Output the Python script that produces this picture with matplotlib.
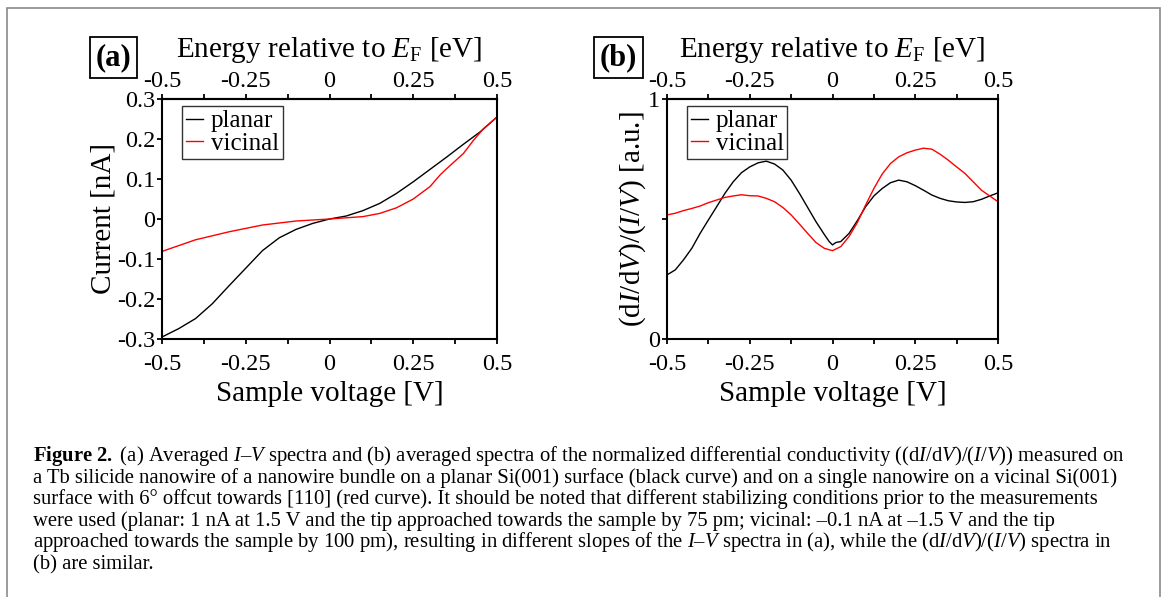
import numpy as np
import matplotlib
matplotlib.use("Agg")
import matplotlib.pyplot as plt
from matplotlib.patches import Rectangle

# -------------------------
# DATA
# -------------------------
# (a) I-V spectra
v_planar_iv = [-0.5, -0.45, -0.4, -0.35, -0.3, -0.25, -0.2, -0.15, -0.1, -0.05,
               0.0, 0.05, 0.1, 0.15, 0.2, 0.25, 0.3, 0.35, 0.4, 0.45, 0.5]
i_planar = [-0.295, -0.274, -0.249, -0.212, -0.167, -0.123, -0.079, -0.047, -0.026, -0.011,
            0.0, 0.0075, 0.021, 0.039, 0.064, 0.093, 0.124, 0.155, 0.187, 0.218, 0.255]

v_vicinal_iv = [-0.5, -0.4, -0.3, -0.2, -0.1, 0.0, 0.1, 0.15, 0.2, 0.25,
                0.3, 0.33, 0.35, 0.4, 0.43, 0.46, 0.5]
i_vicinal = [-0.081, -0.052, -0.032, -0.015, -0.005, 0.0, 0.006, 0.014, 0.028, 0.05,
             0.081, 0.11, 0.126, 0.164, 0.197, 0.226, 0.255]

# (b) normalized differential conductivity
v_planar_nd = [-0.5, -0.475, -0.45, -0.425, -0.4, -0.375, -0.35, -0.325, -0.3, -0.275,
               -0.25, -0.225, -0.2, -0.175, -0.15, -0.125, -0.1, -0.075, -0.05, -0.025,
               -0.01, 0.0, 0.01, 0.025, 0.05, 0.075, 0.1, 0.125, 0.15, 0.175,
               0.2, 0.225, 0.25, 0.275, 0.3, 0.325, 0.35, 0.375, 0.4, 0.425,
               0.45, 0.475, 0.5]
nd_planar = [0.267, 0.288, 0.330, 0.378, 0.440, 0.496, 0.551, 0.607, 0.655, 0.693,
             0.717, 0.734, 0.741, 0.729, 0.704, 0.662, 0.607, 0.548, 0.489, 0.436,
             0.406, 0.392, 0.402, 0.406, 0.440, 0.493, 0.551, 0.596, 0.627, 0.651,
             0.662, 0.655, 0.639, 0.620, 0.600, 0.586, 0.576, 0.571, 0.569, 0.572,
             0.582, 0.596, 0.609]

v_vicinal_nd = [-0.5, -0.475, -0.45, -0.425, -0.4, -0.375, -0.35, -0.325, -0.3, -0.275,
                -0.25, -0.225, -0.2, -0.175, -0.15, -0.125, -0.1, -0.075, -0.05, -0.025,
                0.0, 0.025, 0.05, 0.075, 0.1, 0.125, 0.15, 0.175, 0.2, 0.225,
                0.25, 0.275, 0.3, 0.325, 0.35, 0.375, 0.4, 0.425, 0.45, 0.475, 0.5]
nd_vicinal = [0.517, 0.524, 0.535, 0.544, 0.554, 0.568, 0.579, 0.590, 0.596, 0.601,
              0.597, 0.596, 0.586, 0.572, 0.548, 0.517, 0.479, 0.440, 0.402, 0.378,
              0.368, 0.385, 0.427, 0.485, 0.558, 0.627, 0.687, 0.731, 0.759, 0.776,
              0.787, 0.795, 0.791, 0.770, 0.745, 0.717, 0.690, 0.655, 0.620, 0.596, 0.572]

x_major = [-0.5, -0.25, 0.0, 0.25, 0.5]
x_major_labels = ["-0.5", "-0.25", "0", "0.25", "0.5"]
x_minor = [-0.375, -0.125, 0.125, 0.375]

ya_ticks = [-0.3, -0.2, -0.1, 0.0, 0.1, 0.2, 0.3]
ya_labels = ["-0.3", "-0.2", "-0.1", "0", "0.1", "0.2", "0.3"]
yb_ticks = [0.0, 0.5, 1.0]
yb_labels = ["0", "", "1"]

caption_lines = [
    r"$\mathbf{Figure\ 2.}$ (a) Averaged $I$–$V$ spectra and (b) averaged spectra of the normalized differential conductivity ((d$I$/d$V$)/($I$/$V$)) measured on",
    "a Tb silicide nanowire of a nanowire bundle on a planar Si(001) surface (black curve) and on a single nanowire on a vicinal Si(001)",
    "surface with 6° offcut towards [110] (red curve). It should be noted that different stabilizing conditions prior to the measurements",
    "were used (planar: 1 nA at 1.5 V and the tip approached towards the sample by 75 pm; vicinal: –0.1 nA at –1.5 V and the tip",
    r"approached towards the sample by 100 pm), resulting in different slopes of the $I$–$V$ spectra in (a), while the (d$I$/d$V$)/($I$/$V$) spectra in",
    "(b) are similar.",
]

# -------------------------
# STYLE
# -------------------------
plt.rcParams["font.family"] = ["Liberation Serif", "DejaVu Serif"]
plt.rcParams["mathtext.fontset"] = "custom"
plt.rcParams["mathtext.rm"] = "Liberation Serif"
plt.rcParams["mathtext.it"] = "Liberation Serif:italic"
plt.rcParams["mathtext.bf"] = "Liberation Serif:bold"
plt.rcParams["axes.unicode_minus"] = False

W, H = 1165, 597
fig = plt.figure(figsize=(W / 100, H / 100), dpi=100)


def px_axes(x0, y0, x1, y1):
    return fig.add_axes([x0 / W, 1 - y1 / H, (x1 - x0) / W, (y1 - y0) / H])


def style_axes(ax, ylabel, yticks, ylabels, ylim):
    ax.set_xlim(-0.5, 0.5)
    ax.set_ylim(*ylim)
    ax.set_xticks(x_major)
    ax.set_xticklabels(x_major_labels)
    ax.set_xticks(x_minor, minor=True)
    ax.set_yticks(yticks)
    ax.set_yticklabels(ylabels)
    for s in ax.spines.values():
        s.set_linewidth(1.5)
    ax.tick_params(which="both", direction="out", length=3.8, width=1.3,
                   labelsize=17.5)
    ax.tick_params(axis="x", pad=7)
    ax.tick_params(axis="y", pad=1)
    ax.set_xlabel("Sample voltage [V]", fontsize=21, labelpad=4)
    ax.set_ylabel(ylabel, fontsize=21, labelpad=0)

    top = ax.secondary_xaxis("top", functions=(lambda x: x, lambda x: x))
    top.set_xticks(x_major)
    top.set_xticklabels(x_major_labels)
    top.set_xticks(x_minor, minor=True)
    top.tick_params(which="both", direction="out", length=3.8, width=1.3,
                    labelsize=17.5, pad=1)
    top.spines["top"].set_linewidth(1.5)
    top.set_xlabel(r"Energy relative to $E_{\mathrm{F}}$ [eV]", fontsize=21, labelpad=10)

    leg = ax.legend(loc="upper left", bbox_to_anchor=(0.06, 0.97), borderaxespad=0,
                    fontsize=18, frameon=True, fancybox=False, borderpad=0.15,
                    handlelength=0.7, handletextpad=0.3, labelspacing=0.0)
    leg.get_frame().set_edgecolor("black")
    leg.get_frame().set_linewidth(1.0)


# -------------------------
# PANEL (a)
# -------------------------
ax_a = px_axes(162, 99, 497, 339)
ax_a.plot(v_planar_iv, i_planar, color="black", lw=1.0, label="planar")
ax_a.plot(v_vicinal_iv, i_vicinal, color="#ff0000", lw=1.0, label="vicinal")
style_axes(ax_a, "Current [nA]", ya_ticks, ya_labels, (-0.3, 0.3))

# -------------------------
# PANEL (b)
# -------------------------
ax_b = px_axes(667, 99, 998, 339)
ax_b.plot(v_planar_nd, nd_planar, color="black", lw=1.0, label="planar")
ax_b.plot(v_vicinal_nd, nd_vicinal, color="#ff0000", lw=1.0, label="vicinal")
style_axes(ax_b, r"(d$I$/d$V$)/($I$/$V$) [a.u.]", yb_ticks, yb_labels, (0, 1))

# panel tags
for tag, xc in [("(a)", 113.5), ("(b)", 618.5)]:
    fig.text(xc / W, 1 - 57.5 / H, tag, fontsize=22, fontweight="bold",
             ha="center", va="center",
             bbox=dict(boxstyle="square,pad=0.2", fc="white", ec="black", lw=1.3))

# -------------------------
# CAPTION
# -------------------------
for k, line in enumerate(caption_lines):
    yb = 461 + k * 21.6
    fig.text(33 / W, 1 - yb / H, line, fontsize=14.9, ha="left", va="baseline")

# outer frame
fig.add_artist(Rectangle((7 / W, -0.05), (1160 - 7) / W, (H - 8) / H + 0.05,
                         transform=fig.transFigure, fill=False,
                         ec="#8a8a8a", lw=1.2))

fig.savefig("out.png", dpi=100)
